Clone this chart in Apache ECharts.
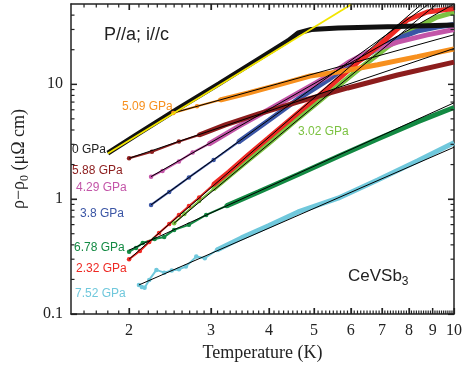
<!DOCTYPE html>
<html>
<head>
<meta charset="utf-8">
<script src="https://cdn.jsdelivr.net/npm/echarts@6/dist/echarts.min.js"></script>
<style>
  html, body { margin: 0; padding: 0; background: #fff; }
  #chart { width: 465px; height: 369px; }
</style>
</head>
<body>
<div id="chart"></div>
<script>
// temperature (K) / rho - rho0 (uOhm cm)
const t0 = [1.80, 2.11, 2.56, 3.12, 3.80, 4.40, 4.62, 4.93, 5.63, 7.56, 10]
const r0 = [2.52, 3.8, 6.2, 10.1, 16.6, 24.0, 28.0, 30.0, 30.9, 31.8, 32.8]
const t509 = [2.49, 2.80, 3.14, 3.61, 4.19, 4.90, 5.63, 6.85, 8.34, 10]
const r509 = [5.63, 6.43, 7.30, 8.40, 9.87, 11.8, 12.8, 14.8, 17.4, 20.3]
const t588 = [2.0, 2.24, 2.56, 2.83, 3.22, 3.80, 4.62, 5.91, 7.56, 10]
const r588 = [2.27, 2.58, 3.17, 3.62, 4.43, 5.52, 7.02, 9.29, 12.05, 15.6]
const t429 = [2.23, 2.36, 2.56, 2.74, 2.97, 3.44, 3.99, 4.62, 5.36, 5.91, 6.52, 7.56, 8.76, 10]
const r429 = [1.57, 1.76, 2.13, 2.55, 3.02, 4.30, 6.0, 8.4, 11.8, 15.4, 19.0, 23.3, 26.9, 30.0]
const t38 = [2.23, 2.44, 2.69, 3.04, 3.44, 3.99, 4.62, 5.36, 5.63, 6.21, 6.85, 7.56, 8.34, 9.20, 10]
const r38 = [0.891, 1.156, 1.545, 2.19, 3.15, 4.84, 7.45, 10.9, 12.6, 16.0, 20.5, 25.0, 29.0, 31.5, 33.2]
const t232 = [2.0, 2.11, 2.21, 2.32, 2.44, 2.56, 2.69, 2.83, 3.04, 3.28, 3.61, 3.99, 4.62, 5.36, 6.21, 6.52, 7.19, 7.94, 8.76, 10]
const r232 = [0.30, 0.354, 0.424, 0.508, 0.608, 0.729, 0.873, 1.035, 1.34, 1.73, 2.43, 3.41, 5.63, 9.29, 15.6, 18.0, 25.3, 36.3, 42.6, 45.7]
const t302 = [2.50, 2.63, 2.83, 3.04, 3.28, 3.61, 3.99, 4.62, 5.36, 6.21, 7.19, 8.34, 9.20, 10]
const r302 = [0.617, 0.744, 0.965, 1.228, 1.59, 2.19, 3.05, 5.04, 8.24, 13.3, 21.1, 31.5, 38.5, 42.2]
const t678 = [2.0, 2.07, 2.14, 2.27, 2.38, 2.50, 2.69, 2.93, 3.24, 3.80, 4.62, 5.63, 6.85, 8.34, 10]
const r678 = [0.349, 0.376, 0.416, 0.450, 0.469, 0.54, 0.597, 0.729, 0.873, 1.156, 1.64, 2.35, 3.34, 4.70, 6.28]
const t752 = [2.10, 2.13, 2.16, 2.21, 2.29, 2.38, 2.47, 2.56, 2.65, 2.79, 2.91, 3.09, 3.49, 3.99, 4.62, 5.63, 6.85, 8.34, 10]
const r752 = [0.179, 0.172, 0.169, 0.198, 0.242, 0.229, 0.239, 0.245, 0.259, 0.316, 0.306, 0.361, 0.460, 0.585, 0.774, 1.02, 1.47, 2.15, 3.09]

// power-law fits (end points of the straight lines)
const fit0T = [1.80, 6.01], fit0R = [2.5, 49.4]
const fit509T = [2.49, 10], fit509R = [5.63, 27.0]
const fit588T = [2.0, 10], fit588R = [2.27, 20.5]
const fit429T = [2.23, 9.95], fit429R = [1.57, 49.5]
const fit38T = [2.23, 8.83], fit38R = [0.891, 50]
const fit232T = [2.0, 8.52], fit232R = [0.30, 50]
const fit302T = [2.50, 9.17], fit302R = [0.617, 50]
const fit678T = [2.0, 10], fit678R = [0.36, 6.9]
const fit752T = [2.10, 10], fit752R = [0.179, 2.83]

// axis ticks
const xMajor = [2, 3, 4, 5, 6, 7, 8, 9, 10]
const yMajor = [0.1, 1, 10]
const yMinor = [0.2, 0.3, 0.4, 0.5, 0.6, 0.7, 0.8, 0.9, 2, 3, 4, 5, 6, 7, 8, 9, 20, 30, 40]
const xMinor = []
for (let k = 16; k < 100; k++) {
  if (k % 10 !== 0) xMinor.push(k / 10)
}

const xMin = 1.5, xMax = 10, yMin = 0.1, yMax = 50
const zip = (t, r) => t.map((v, i) => [v, r[i]])
const axisColor = '#222'
const serif = 'Liberation Serif'
const sans = 'Liberation Sans'

// thin trace with dots at low T, thick band where the data get dense
function dataSeries (t, r, color, nDots) {
  const from = Math.max(nDots - 1, 0)
  return [
    {
      type: 'line',
      data: zip(t, r),
      symbol: 'circle',
      symbolSize: (v, p) => (p.dataIndex < nDots ? 4.5 : 0),
      showSymbol: nDots > 0,
      itemStyle: { color: color },
      lineStyle: { color: color, width: 2 },
      z: 2
    },
    {
      type: 'line',
      data: zip(t.slice(from), r.slice(from)),
      symbol: 'none',
      lineStyle: { color: color, width: 5 },
      z: 2
    }
  ]
}
function fitSeries (t, r, color, width, z) {
  return {
    type: 'line',
    data: zip(t, r),
    symbol: 'none',
    lineStyle: { color: color, width: width },
    z: z
  }
}

// inward tick marks on both opposite edges, placed through the axis scales
function tickSeries (vals, dim, len) {
  return {
    type: 'custom',
    silent: true,
    z: 6,
    data: vals.map(v => (dim === 'x' ? [v, 1] : [2, v])),
    renderItem: (params, api) => {
      const st = { stroke: axisColor, lineWidth: 1.2 }
      if (dim === 'x') {
        const v = api.value(0)
        const lo = api.coord([v, yMin])
        const hi = api.coord([v, yMax])
        return {
          type: 'group',
          children: [
            { type: 'line', shape: { x1: lo[0], y1: lo[1], x2: lo[0], y2: lo[1] - len }, style: st },
            { type: 'line', shape: { x1: hi[0], y1: hi[1], x2: hi[0], y2: hi[1] + len }, style: st }
          ]
        }
      }
      const v = api.value(1)
      const l = api.coord([xMin, v])
      const r = api.coord([xMax, v])
      return {
        type: 'group',
        children: [
          { type: 'line', shape: { x1: l[0], y1: l[1], x2: l[0] + len, y2: l[1] }, style: st },
          { type: 'line', shape: { x1: r[0], y1: r[1], x2: r[0] - len, y2: r[1] }, style: st }
        ]
      }
    }
  }
}

const xBase = { type: 'log', logBase: 10, min: xMin, max: xMax, splitLine: { show: false }, axisLabel: { show: false }, axisLine: { show: false } }
const yBase = { type: 'log', logBase: 10, min: yMin, max: yMax, splitLine: { show: false }, axisLabel: { show: false }, axisLine: { show: false } }
const frame = { show: true, lineStyle: { color: axisColor, width: 1.5 } }
const tick = (vals, len) => ({ show: true, inside: true, length: len, customValues: vals, lineStyle: { color: axisColor, width: 1.2 } })

function label (text, x, y, color, size) {
  return {
    type: 'text',
    x: x,
    y: y,
    style: { text: text, fill: color, font: size + 'px "' + sans + '"', verticalAlign: 'middle' }
  }
}

const chart = echarts.init(document.getElementById('chart'))
const options = {
  animation: false,
  backgroundColor: '#ffffff',
  grid: { left: 71, right: 7, top: 4, bottom: 55 },
  xAxis: [
    {
      ...xBase,
      position: 'bottom',
      axisLine: frame,
      axisTick: tick(xMajor, 6),
      axisLabel: { show: true, customValues: xMajor, margin: 9, color: '#222', fontFamily: serif, fontSize: 16, formatter: v => String(Math.round(v)) },
      name: 'Temperature (K)',
      nameLocation: 'middle',
      nameGap: 27,
      nameTextStyle: { color: '#222', fontFamily: serif, fontSize: 18 }
    },
    { ...xBase, position: 'top', axisLine: frame, axisTick: tick(xMajor, 6) }
  ],
  yAxis: [
    {
      ...yBase,
      position: 'left',
      axisLine: frame,
      axisTick: tick(yMajor, 6),
      axisLabel: { show: true, customValues: yMajor, margin: 8, color: '#222', fontFamily: serif, fontSize: 16, formatter: v => String(v) },
      name: '{m|ρ−ρ}{s|0}{m| (μΩ cm)}',
      nameLocation: 'middle',
      nameGap: 40,
      nameTextStyle: {
        color: '#222',
        fontFamily: serif,
        fontSize: 18,
        rich: {
          m: { fontFamily: serif, fontSize: 18, lineHeight: 24, color: '#222' },
          s: { fontFamily: serif, fontSize: 12, lineHeight: 12, verticalAlign: 'bottom', color: '#222' }
        }
      }
    },
    { ...yBase, position: 'right', axisLine: frame, axisTick: tick(yMajor, 6) }
  ],
  series: [
    ...dataSeries(t752, r752, '#70c8dc', 12),
    ...dataSeries(t678, r678, '#138a43', 9),
    ...dataSeries(t302, r302, '#7cc242', 4),
    ...dataSeries(t38, r38, '#3a55a5', 5),
    ...dataSeries(t429, r429, '#c355a8', 5),
    ...dataSeries(t232, r232, '#ee2a24', 9),
    ...dataSeries(t588, r588, '#8c1d1d', 4),
    ...dataSeries(t509, r509, '#f7901e', 3),
    ...dataSeries(t0, r0, '#111111', 0),
    fitSeries(fit752T, fit752R, '#000', 1, 3),
    fitSeries(fit678T, fit678R, '#000', 1, 3),
    fitSeries(fit302T, fit302R, '#000', 1, 3),
    fitSeries(fit38T, fit38R, '#000', 1, 3),
    fitSeries(fit429T, fit429R, '#000', 1, 3),
    fitSeries(fit232T, fit232R, '#000', 1, 3),
    fitSeries(fit588T, fit588R, '#000', 1, 3),
    fitSeries(fit509T, fit509R, '#000', 1, 3),
    fitSeries(fit0T, fit0R, '#f2e500', 1.8, 4),
    tickSeries(xMajor, 'x', 6),
    tickSeries(xMinor, 'x', 3.5),
    tickSeries(yMajor, 'y', 6),
    tickSeries(yMinor, 'y', 3.5)
  ],
  graphic: [
    label('P//a; i//c', 104, 35, '#222', 18),
    label('5.09 GPa', 122, 107, '#f7901e', 12),
    label('0 GPa', 72, 150, '#222', 12),
    label('5.88 GPa', 72, 171, '#8c1d1d', 12),
    label('4.29 GPa', 76, 188, '#c355a8', 12),
    label('3.8 GPa', 80, 213.5, '#3a55a5', 12),
    label('6.78 GPa', 74, 247.5, '#138a43', 12),
    label('2.32 GPa', 76, 269, '#ee2a24', 12),
    label('7.52 GPa', 75, 293.5, '#70c8dc', 12),
    label('3.02 GPa', 298, 132, '#7cc242', 12),
    {
      type: 'text',
      x: 348,
      y: 276,
      style: {
        text: '{m|CeVSb}{s|3}',
        verticalAlign: 'middle',
        rich: {
          m: { fontFamily: sans, fontSize: 17, lineHeight: 24, fill: '#222', color: '#222' },
          s: { fontFamily: sans, fontSize: 12, lineHeight: 12, verticalAlign: 'bottom', fill: '#222', color: '#222' }
        }
      }
    }
  ]
}
chart.setOption(options)
</script>
</body>
</html>
